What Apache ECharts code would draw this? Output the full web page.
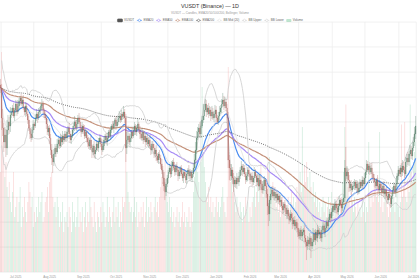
<!DOCTYPE html>
<html>
<head>
<meta charset="utf-8">
<script src="https://cdn.jsdelivr.net/npm/echarts@6/dist/echarts.min.js"></script>
<style>
html, body { margin: 0; padding: 0; background: #fff; overflow: hidden; }
#wrap { width: 420px; height: 280px; overflow: hidden; }
/* chart is laid out at 1400x934 and shrunk to the 420x280 window */
#chart { width: 1400px; height: 934px; transform: scale(0.3); transform-origin: 0 0; }
</style>
</head>
<body>
<div id="wrap"><div id="chart"></div></div>
<script>
// daily candles, first day 2025-06-17
var startDate = '2025-06-17';
var firstOpen = 0.187;
var TICK = 0.001;

var closes = [
    .184,.154,.144,.130,.137,.124,.142,.150,.146,.157,
    .160,.164,.156,.162,.168,.160,.166,.171,.174,.168,
    .172,.164,.160,.166,.158,.152,.144,.138,.134,.142,
    .148,.146,.154,.158,.154,.160,.162,.166,.168,.162,
    .158,.154,.148,.140,.144,.134,.122,.114,.110,.118,
    .124,.120,.128,.132,.126,.134,.130,.136,.132,.138,
    .134,.140,.144,.138,.132,.136,.142,.146,.150,.144,
    .148,.154,.150,.144,.140,.146,.142,.136,.140,.134,
    .130,.126,.132,.124,.120,.126,.118,.122,.128,.124,
    .130,.134,.128,.122,.126,.132,.136,.130,.134,.140,
    .136,.142,.146,.144,.148,.152,.146,.150,.154,.156,
    .152,.158,.156,.160,.154,.124,.132,.136,.130,.134,
    .140,.136,.142,.146,.140,.144,.148,.142,.138,.134,
    .140,.132,.136,.130,.134,.128,.132,.126,.122,.128,
    .124,.118,.122,.116,.112,.118,.114,.108,.102,.094,
    .086,.080,.088,.094,.100,.104,.098,.106,.110,.104,
    .100,.106,.102,.096,.100,.104,.098,.094,.100,.096,
    .092,.098,.102,.096,.100,.094,.098,.104,.112,.122,
    .134,.140,.144,.138,.146,.152,.156,.162,.168,.160,
    .164,.158,.162,.156,.160,.154,.158,.162,.154,.150,
    .156,.160,.164,.168,.172,.166,.170,.164,.154,.112,
    .104,.096,.102,.094,.088,.092,.088,.094,.090,.096,
    .102,.106,.100,.104,.098,.092,.096,.102,.098,.092,
    .096,.090,.094,.100,.096,.090,.094,.086,.092,.088,
    .082,.086,.092,.086,.078,.066,.058,.072,.078,.082,
    .076,.080,.074,.078,.072,.076,.070,.072,.066,.062,
    .068,.064,.058,.062,.056,.052,.058,.054,.048,.052,
    .046,.050,.044,.040,.036,.042,.036,.040,.042,.034,
    .030,.026,.032,.028,.034,.026,.030,.038,.032,.040,
    .034,.042,.038,.040,.034,.042,.046,.040,.044,.050,
    .046,.052,.058,.054,.060,.066,.062,.068,.064,.060,
    .066,.072,.068,.064,.070,.074,.104,.096,.100,.092,
    .084,.088,.082,.086,.086,.090,.084,.088,.080,.084,
    .090,.086,.092,.088,.094,.100,.108,.102,.106,.100,
    .104,.098,.094,.090,.086,.092,.086,.082,.088,.084,
    .080,.086,.078,.082,.076,.072,.078,.074,.068,.076,
    .082,.086,.080,.088,.096,.102,.098,.104,.100,.106,
    .102,.098,.110,.114,.110,.118,.122,.116,.124,.130,
    .138,.146
];

// wick lengths above / below the body, in ticks
var wickUp = [
    6,4,9,5,8,6,10,7,5,8,
    4,3,5,2,4,3,6,3,2,4,
    3,5,2,4,3,2,4,3,5,3,
    4,2,3,5,2,4,3,2,5,3,
    2,4,3,5,2,3,4,6,3,5,
    4,2,5,3,2,4,3,5,2,3,
    3,4,2,5,3,2,4,3,6,2,
    4,3,5,2,3,4,2,5,3,2,
    3,5,2,4,3,2,5,3,4,2,
    4,3,2,5,3,4,2,3,5,2,
    3,4,2,5,3,2,4,3,2,5,
    3,4,2,6,3,4,8,5,3,4,
    2,5,3,4,2,3,5,2,4,3,
    4,2,5,3,2,4,3,5,2,3,
    3,4,2,5,3,2,4,3,5,4,
    6,4,5,3,2,4,3,5,2,4,
    3,2,4,3,5,2,3,4,2,3,
    4,3,2,5,3,2,4,5,6,8,
    7,5,4,6,5,4,12,6,5,4,
    3,5,4,3,6,4,3,5,4,3,
    4,6,3,5,7,4,5,3,4,6,
    5,4,6,3,5,4,3,5,2,4,
    3,5,2,4,3,2,4,3,5,2,
    3,4,2,5,3,2,4,3,6,4,
    3,5,4,2,3,5,3,4,6,3,
    4,3,5,2,4,3,2,5,3,4,
    2,4,3,5,2,3,4,2,5,3,
    4,2,3,5,3,2,4,3,2,5,
    3,2,4,3,5,2,3,6,4,3,
    2,5,3,4,2,3,4,5,3,2,
    4,3,5,2,4,3,2,5,3,4,
    3,4,2,5,3,4,8,21,6,4,
    5,3,4,2,5,3,2,4,3,5,
    3,2,4,3,5,2,4,3,2,4,
    3,5,2,4,3,2,5,3,4,2,
    4,3,5,2,3,4,2,5,3,2,
    3,4,2,5,3,4,2,3,5,6,
    4,3,5,4,6,3,5,4,6,5,
    7,10
];
var wickDown = [
    5,12,8,10,6,9,7,5,8,6,
    3,4,2,5,3,4,2,3,4,2,
    4,2,3,5,2,4,3,5,4,2,
    3,4,2,3,5,2,3,4,2,3,
    4,2,5,3,4,6,5,7,11,4,
    3,5,2,4,3,2,5,3,4,2,
    4,3,2,5,3,4,2,3,5,2,
    3,4,2,3,5,2,4,3,2,4,
    5,3,4,2,6,3,4,5,2,3,
    4,2,3,5,2,4,3,2,4,3,
    2,4,3,2,5,3,4,2,3,4,
    3,2,4,3,5,14,6,4,3,5,
    4,3,2,5,3,4,2,3,5,2,
    3,4,2,5,3,2,4,3,5,4,
    2,4,3,5,3,4,2,5,4,6,
    5,8,4,3,5,2,4,3,5,2,
    4,3,2,5,3,4,2,3,5,2,
    3,4,2,3,5,2,4,3,2,3,
    4,2,5,3,4,2,3,4,2,5,
    3,4,2,5,3,2,4,3,5,2,
    3,4,2,5,3,4,2,3,5,8,
    12,5,4,6,8,3,4,5,2,4,
    3,5,4,2,3,4,2,5,3,4,
    2,4,3,5,2,4,3,5,4,6,
    3,4,5,3,4,9,12,7,4,3,
    2,4,3,5,2,4,3,5,2,4,
    3,4,2,5,3,4,2,3,5,2,
    4,3,2,5,3,4,2,5,3,4,
    5,14,4,3,6,12,3,4,2,5,
    3,4,2,5,3,4,2,3,5,2,
    4,3,2,5,3,4,2,3,5,2,
    3,4,2,5,3,2,4,5,3,2,
    4,3,5,2,3,4,2,5,3,2,
    4,2,3,5,2,4,3,2,4,3,
    2,4,3,5,2,4,3,2,5,3,
    4,2,3,5,2,4,3,2,4,3,
    3,4,2,5,3,4,2,3,5,4,
    3,4,2,5,3,4,2,3,4,3,
    4,5
];

// volume, millions
var volumes = [
    40,88,52,46,38,44,34,30,36,28,
    24,32,40,22,26,30,20,28,34,18,
    26,22,30,24,20,28,36,32,26,30,
    18,24,20,26,22,30,24,28,32,20,
    22,28,30,34,24,36,38,40,30,26,
    28,22,30,26,18,24,20,28,16,22,
    20,24,18,26,22,16,28,20,24,18,
    22,30,18,24,20,26,16,22,28,18,
    24,20,30,26,22,18,28,20,16,24,
    22,18,26,20,28,24,18,22,30,20,
    26,22,18,24,30,20,26,22,28,18,
    24,20,30,26,28,62,40,32,28,24,
    26,20,24,30,22,28,18,24,20,26,
    22,28,18,24,30,20,26,22,28,24,
    20,26,30,24,28,22,30,34,38,36,
    40,46,34,28,24,30,22,26,20,24,
    18,22,26,20,24,18,22,28,20,24,
    18,22,20,26,18,24,20,32,38,44,
    52,40,36,30,44,74,48,42,36,30,
    28,34,26,30,24,28,22,26,30,24,
    28,22,26,30,34,28,24,22,30,82,
    48,36,40,32,38,28,24,30,26,22,
    28,24,20,26,22,30,24,28,20,26,
    22,28,30,34,26,32,36,28,40,44,
    34,30,38,32,36,42,40,46,34,30,
    36,32,28,26,30,24,28,22,26,30,
    24,28,22,26,30,24,28,32,26,30,
    24,28,34,30,36,40,32,58,34,42,
    36,44,38,32,40,34,30,36,28,32,
    26,30,24,28,22,26,30,24,28,22,
    26,30,24,28,32,26,22,28,24,30,
    26,22,28,30,36,40,58,67,42,34,
    30,26,32,28,24,30,26,22,28,24,
    26,22,30,24,28,20,26,24,52,30,
    26,32,28,34,36,30,38,28,56,26,
    30,24,28,32,32,26,22,28,24,30,
    26,30,24,28,32,26,22,28,59,30,
    34,60,30,28,36,32,67,40,36,44,
    48,52
];

var monthNames = ['Jan','Feb','Mar','Apr','May','Jun','Jul','Aug','Sep','Oct','Nov','Dec'];

function buildDates(start, n) {
    var out = [];
    var t = Date.parse(start + 'T00:00:00Z');
    for (var i = 0; i < n; i++) {
        out.push(new Date(t + i * 86400000).toISOString().slice(0, 10));
    }
    return out;
}

function ema(src, n) {
    var k = 2 / (n + 1);
    var out = [];
    var prev = src[0];
    for (var i = 0; i < src.length; i++) {
        prev = i === 0 ? src[0] : src[i] * k + prev * (1 - k);
        out.push(+prev.toFixed(5));
    }
    return out;
}

function bollinger(src, n, mult) {
    var mid = [], up = [], lo = [];
    for (var i = 0; i < src.length; i++) {
        var win = src.slice(Math.max(0, i - n + 1), i + 1);
        var m = 0;
        for (var j = 0; j < win.length; j++) m += win[j];
        m /= win.length;
        mid.push(+m.toFixed(5));
        if (win.length < 2) { up.push('-'); lo.push('-'); continue; }
        var s = 0;
        for (var j = 0; j < win.length; j++) s += (win[j] - m) * (win[j] - m);
        s = Math.sqrt(s / (win.length - 1));
        up.push(+(m + mult * s).toFixed(5));
        lo.push(+(m - mult * s).toFixed(5));
    }
    return { mid: mid, up: up, lo: lo };
}

var dates = buildDates(startDate, closes.length);
var candles = [];
var volData = [];
for (var i = 0; i < closes.length; i++) {
    var o = i === 0 ? firstOpen : closes[i - 1];   // 24h market: opens at prior close
    var c = closes[i];
    var h = Math.max(o, c) + wickUp[i] * TICK;
    var l = Math.min(o, c) - wickDown[i] * TICK;
    candles.push([o, c, +l.toFixed(4), +h.toFixed(4)]);
    volData.push({
        value: volumes[i],
        itemStyle: { color: c >= o ? 'rgba(46,170,100,0.22)' : 'rgba(239,83,80,0.22)' }
    });
}
var bb = bollinger(closes, 20, 2);

var myChart = echarts.init(document.getElementById('chart'), null, { renderer: 'svg' });

function lineSeries(name, data, color, width, type) {
    return {
        name: name,
        type: 'line',
        data: data,
        showSymbol: false,
        z: 3,
        itemStyle: { color: color },
        lineStyle: { color: color, width: width, type: type || 'solid' }
    };
}

option = {
    animation: false,
    textStyle: { fontFamily: 'Liberation Sans' },
    title: {
        text: 'VUSDT (Binance) — 1D',
        subtext: 'VUSDT — Candles, EMA20/50/100/200, Bollinger, Volume',
        left: 'center',
        top: 6,
        itemGap: 8,
        textStyle: { fontSize: 18, fontWeight: 'normal', color: '#333' },
        subtextStyle: { fontSize: 10, color: '#999' }
    },
    legend: {
        top: 57,
        left: 'center',
        itemWidth: 17,
        itemHeight: 10,
        itemGap: 8,
        textStyle: { fontSize: 10, color: '#666' },
        data: [
            { name: 'VUSDT', itemStyle: { color: '#555555', borderColor: '#555555' } },
            'EMA20', 'EMA50', 'EMA100', 'EMA200', 'BB Mid (20)', 'BB Upper', 'BB Lower', 'Volume'
        ]
    },
    grid: { left: 0, right: 0, top: 73, bottom: 27 },
    xAxis: {
        type: 'category',
        data: dates,
        axisLine: { show: false },
        axisTick: { show: false },
        axisLabel: {
            fontSize: 10,
            color: '#999',
            margin: 10,
            interval: function (idx, val) { return val.slice(8) === '01'; },
            formatter: function (val) { return monthNames[+val.slice(5, 7) - 1] + ' ' + val.slice(0, 4); }
        },
        splitLine: {
            show: true,
            interval: function (idx, val) { return val.slice(8) === '18'; },
            lineStyle: { color: '#ececec', width: 2.5 }
        }
    },
    yAxis: [
        {
            type: 'value',
            min: 0,
            max: 0.25,
            interval: 0.025,
            axisLabel: { show: false },
            axisLine: { show: false },
            axisTick: { show: false },
            splitLine: { lineStyle: { color: '#ececec', width: 2.5 } }
        },
        {
            type: 'value',
            min: 0,
            max: 100,
            show: false,
            splitLine: { show: false }
        }
    ],
    series: [
        {
            name: 'Volume',
            type: 'bar',
            yAxisIndex: 1,
            barWidth: '70%',
            itemStyle: { color: 'rgba(46,170,100,0.3)' },
            data: volData,
            z: 1
        },
        {
            name: 'VUSDT',
            type: 'candlestick',
            data: candles,
            barWidth: '60%',
            itemStyle: {
                color: '#3d6e53',
                color0: '#a24a43',
                borderColor: '#5f8a73',
                borderColor0: '#b3736d',
                borderWidth: 1.2
            },
            z: 4
        },
        lineSeries('EMA20', ema(closes, 20), '#4a8cf0', 4),
        lineSeries('EMA50', ema(closes, 50), '#a78bf5', 4),
        lineSeries('EMA100', ema(closes, 100), '#c4917a', 4),
        lineSeries('EMA200', ema(closes, 200), '#555555', 3, [3, 4]),
        lineSeries('BB Mid (20)', bb.mid, '#e2e2e2', 2.5),
        lineSeries('BB Upper', bb.up, '#d2d2d2', 3),
        lineSeries('BB Lower', bb.lo, '#d2d2d2', 3)
    ]
};

myChart.setOption(option);
</script>
</body>
</html>
